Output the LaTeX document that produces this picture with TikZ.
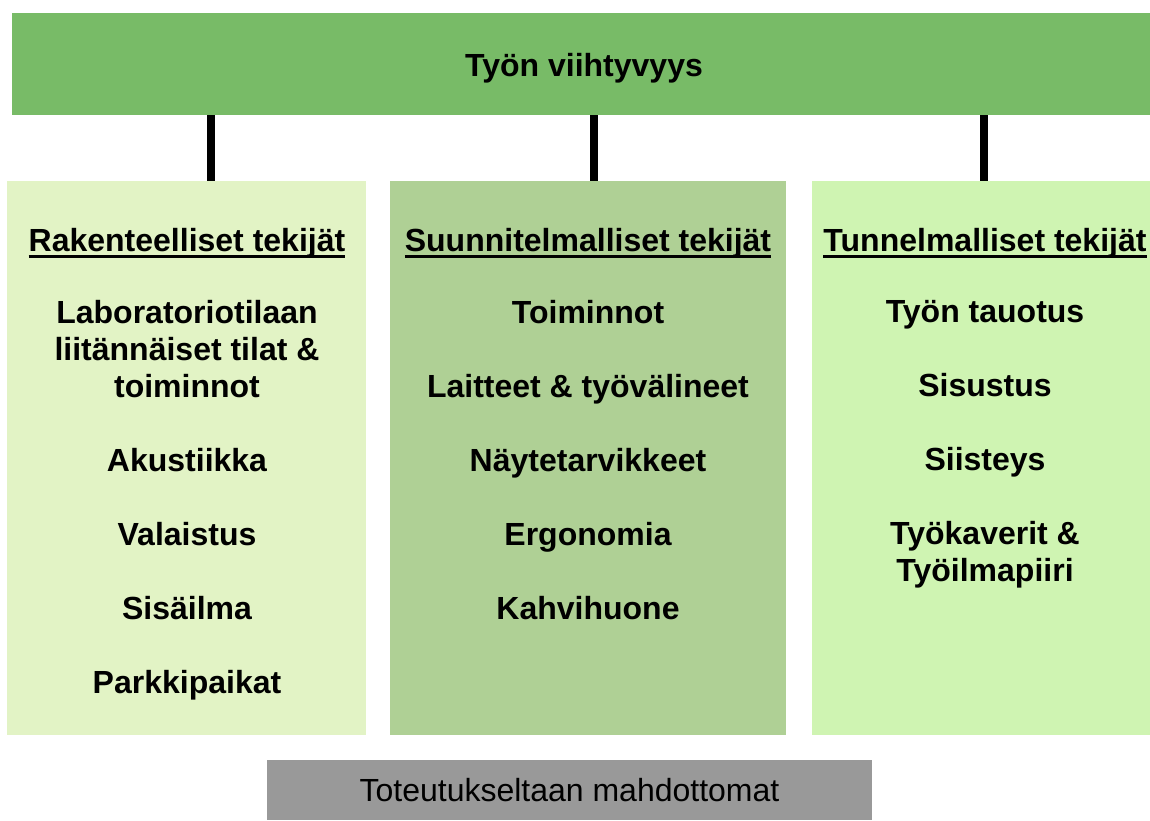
\documentclass[tikz,border=0pt]{standalone}
\usepackage{fontspec}
\setmainfont{Liberation Sans}
\usepackage{tikz}
\usetikzlibrary{positioning}
\definecolor{topGreen}{RGB}{120,187,103}
\definecolor{rakGreen}{RGB}{226,243,197}
\definecolor{suuGreen}{RGB}{175,208,149}
\definecolor{tunGreen}{RGB}{207,244,178}
\definecolor{notGray}{RGB}{153,153,153}
\newcommand{\ulHead}[1]{\setbox0\hbox{#1}\rlap{\rule[-3.6pt]{\wd0}{1.5pt}}\box0}

\begin{document}
\begin{tikzpicture}[x=0.5pt, y=-0.5pt]
\tikzstyle{boxStyle}=[shape = rectangle, draw=none, inner sep = 0pt,
outer sep = 0pt, minimum height = 277pt]
\tikzstyle{headStyle}=[inner sep = 0pt, anchor=base,
font=\bfseries\fontsize{16}{18.5}\selectfont]
\tikzstyle{listStyle}=[inner sep = 0pt, anchor=north, align=center,
font=\bfseries\fontsize{16}{18.5}\selectfont]
\tikzstyle{linkStyle}=[line width=4pt, black]

\useasboundingbox (0,0) rectangle (1150,820);

\draw (584,64) node[boxStyle, fill=topGreen, minimum width=572pt, minimum height=51pt,
  text height=12pt, text depth=0pt,
  font=\bfseries\fontsize{16}{18.5}\selectfont] (top) {Työn viihtyvyys};

\draw (186.5,458) node[boxStyle, fill=rakGreen, minimum width=179.5pt] (rak) {};
\draw (588,458) node[boxStyle, fill=suuGreen, minimum width=198pt] (suu) {};
\draw (981,458) node[boxStyle, fill=tunGreen, minimum width=169pt] (tun) {};

\foreach \b/\s in {rak/12.25pt, suu/3pt, tun/1.5pt}
{
	\draw[linkStyle] ([xshift=\s]\b.north |- top.south) -- ([xshift=\s]\b.north);
}

\draw (187,251) node[headStyle] (rakHead) {\ulHead{Rakenteelliset tekijät}};
\draw (588,251) node[headStyle] (suuHead) {\ulHead{Suunnitelmalliset tekijät}};
\draw (985,251) node[headStyle] (tunHead) {\ulHead{Tunnelmalliset tekijät}};

\draw (187,300) node[listStyle] (rakList) {Laboratoriotilaan\\liitännäiset tilat \&\\toiminnot\\[18.5pt]
  Akustiikka\\[18.5pt]Valaistus\\[18.5pt]Sisäilma\\[18.5pt]Parkkipaikat};
\draw (588,300) node[listStyle] (suuList) {Toiminnot\\[18.5pt]Laitteet \& työvälineet\\[18.5pt]
  Näytetarvikkeet\\[18.5pt]Ergonomia\\[18.5pt]Kahvihuone};
\draw (985,300) node[listStyle] (tunList) {Työn tauotus\\[18.5pt]Sisustus\\[18.5pt]
  Siisteys\\[18.5pt]Työkaverit \&\\Työilmapiiri};

\draw (569.5,790) node[boxStyle, fill=notGray, minimum width=302.5pt, minimum height=30pt,
  font=\fontsize{16}{18.5}\selectfont] (imposs) {Toteutukseltaan mahdottomat};
\end{tikzpicture}
\end{document}
